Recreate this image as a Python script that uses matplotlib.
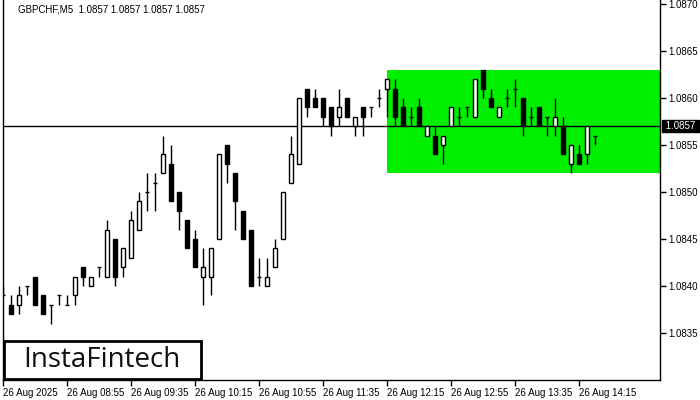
import matplotlib
matplotlib.use("Agg")
import matplotlib.pyplot as plt
from matplotlib.patches import Rectangle
import matplotlib.transforms as mtransforms

# ---- data (GBPCHF M5) ----
opens = [1.0839, 1.0838, 1.0838, 1.0840, 1.0841, 1.0839, 1.0838, 1.0839, 1.0838, 1.0839,
         1.0842, 1.0840, 1.0842, 1.0841, 1.0845, 1.0842, 1.0843, 1.0846, 1.0850, 1.0851,
         1.0852, 1.0853, 1.0850, 1.0847, 1.0845, 1.0841, 1.0841, 1.0845, 1.0855, 1.0852,
         1.0848, 1.0846, 1.0841, 1.0840, 1.0842, 1.0845, 1.0851, 1.0853, 1.0861, 1.0860,
         1.0860, 1.0859, 1.0858, 1.0860, 1.0857, 1.0859, 1.0859, 1.0860, 1.0861, 1.0861,
         1.0859, 1.0858, 1.0859, 1.0856, 1.0856, 1.0855, 1.0857, 1.0858, 1.0859, 1.0858,
         1.0863, 1.0860, 1.0858, 1.0860, 1.0861, 1.0860, 1.0858, 1.0859, 1.0858, 1.0857,
         1.0857, 1.0853, 1.0854, 1.0854, 1.0856]
highs = [1.0840, 1.0839, 1.0840, 1.0840, 1.0841, 1.0839, 1.0838, 1.0839, 1.0839, 1.0841,
         1.0842, 1.0841, 1.0842, 1.0847, 1.0845, 1.0844, 1.0848, 1.0850, 1.0852, 1.0852,
         1.0856, 1.0855, 1.0850, 1.0847, 1.0846, 1.0844, 1.0844, 1.0854, 1.0855, 1.0852,
         1.0848, 1.0846, 1.0843, 1.0843, 1.0845, 1.0850, 1.0856, 1.0860, 1.0861, 1.0861,
         1.0860, 1.0859, 1.0861, 1.0860, 1.0858, 1.0859, 1.0859, 1.0861, 1.0862, 1.0862,
         1.0860, 1.0859, 1.0860, 1.0857, 1.0857, 1.0856, 1.0859, 1.0859, 1.0859, 1.0862,
         1.0863, 1.0861, 1.0859, 1.0861, 1.0862, 1.0860, 1.0859, 1.0859, 1.0858, 1.0860,
         1.0858, 1.0855, 1.0855, 1.0857, 1.0856]
lows = [1.0839, 1.0837, 1.0837, 1.0839, 1.0838, 1.0837, 1.0836, 1.0838, 1.0838, 1.0838,
        1.0840, 1.0840, 1.0841, 1.0841, 1.0840, 1.0841, 1.0843, 1.0846, 1.0848, 1.0848,
        1.0852, 1.0849, 1.0846, 1.0844, 1.0842, 1.0838, 1.0839, 1.0845, 1.0851, 1.0846,
        1.0845, 1.0840, 1.0840, 1.0840, 1.0842, 1.0845, 1.0851, 1.0853, 1.0858, 1.0859,
        1.0857, 1.0856, 1.0857, 1.0858, 1.0856, 1.0856, 1.0858, 1.0859, 1.0858, 1.0857,
        1.0857, 1.0857, 1.0857, 1.0856, 1.0854, 1.0853, 1.0857, 1.0857, 1.0858, 1.0858,
        1.0860, 1.0859, 1.0858, 1.0859, 1.0859, 1.0856, 1.0857, 1.0857, 1.0856, 1.0856,
        1.0854, 1.0852, 1.0853, 1.0853, 1.0855]
closes = [1.0839, 1.0837, 1.0839, 1.0840, 1.0838, 1.0837, 1.0838, 1.0839, 1.0838, 1.0841,
          1.0841, 1.0841, 1.0842, 1.0846, 1.0841, 1.0844, 1.0847, 1.0849, 1.0850, 1.0851,
          1.0854, 1.0849, 1.0848, 1.0844, 1.0842, 1.0842, 1.0844, 1.0854, 1.0853, 1.0849,
          1.0845, 1.0840, 1.0841, 1.0841, 1.0844, 1.0850, 1.0854, 1.0860, 1.0859, 1.0859,
          1.0858, 1.0857, 1.0859, 1.0858, 1.0858, 1.0858, 1.0859, 1.0860, 1.0862, 1.0858,
          1.0857, 1.0858, 1.0857, 1.0857, 1.0854, 1.0856, 1.0859, 1.0858, 1.0859, 1.0862,
          1.0861, 1.0859, 1.0859, 1.0860, 1.0861, 1.0857, 1.0858, 1.0857, 1.0858, 1.0858,
          1.0854, 1.0855, 1.0853, 1.0857, 1.0856]

price_ticks = [1.0835, 1.0840, 1.0845, 1.0850, 1.0855, 1.0860, 1.0865, 1.0870]
time_labels = ["26 Aug 2025", "26 Aug 08:55", "26 Aug 09:35", "26 Aug 10:15",
               "26 Aug 10:55", "26 Aug 11:35", "26 Aug 12:15", "26 Aug 12:55",
               "26 Aug 13:35", "26 Aug 14:15"]
time_label_idx = [0, 8, 16, 24, 32, 40, 48, 56, 64, 72]

current_price = 1.0857
zone_start = 48
zone_top = 1.0863
zone_bottom = 1.0852
title_text = "GBPCHF,M5  1.0857 1.0857 1.0857 1.0857"

plt.rcParams["font.family"] = ["Liberation Sans", "DejaVu Sans"]

# ---- figure ----
W, H = 700, 400
fig = plt.figure(figsize=(7, 4), dpi=100)
ax = fig.add_axes([3 / W, 1 - 380 / H, (660 - 3) / W, 380 / H])
ax.set_xlim(0, (660 - 3) / 8)
ax.set_ylim(1.08300, 1.087043)

# green zone
ax.add_patch(Rectangle((zone_start, zone_bottom), 200, zone_top - zone_bottom,
                       facecolor="#00ee00", edgecolor="none", zorder=1))
ax.axhline(current_price, color="black", lw=1, zorder=2)

bw = 0.6
for i, (o, h, l, c) in enumerate(zip(opens, highs, lows, closes)):
    ax.vlines(i, l, h, color="black", lw=1, zorder=3)
    if abs(c - o) < 1e-9:
        ax.hlines(o, i - bw / 2, i + bw / 2, color="black", lw=1, zorder=4)
    else:
        fill = "white" if c > o else "black"
        ax.bar(i, abs(c - o), bottom=min(o, c), width=bw, color=fill,
               edgecolor="black", linewidth=1, zorder=4)

# axes styling
for s in ["left", "bottom", "right"]:
    ax.spines[s].set_color("black")
    ax.spines[s].set_linewidth(1)
ax.spines["top"].set_visible(False)

ax.yaxis.tick_right()
ax.set_yticks(price_ticks)
ax.set_yticklabels([f"{p:.4f}" for p in price_ticks])
ax.tick_params(axis="y", direction="out", length=4, width=1, pad=2,
               labelsize=7, colors="black")
ax.set_xticks(time_label_idx)
ax.set_xticklabels(time_labels)
for lbl in ax.get_xticklabels():
    lbl.set_horizontalalignment("left")
ax.tick_params(axis="x", direction="out", length=4, width=1, pad=2,
               labelsize=7, colors="black")

# current price label
trans = mtransforms.blended_transform_factory(ax.transAxes, ax.transData)
ax.text(1.004, current_price, " 1.0857 ", transform=trans, ha="left", va="center",
        fontsize=7, color="white", zorder=10, clip_on=False,
        bbox=dict(boxstyle="square,pad=0.1", facecolor="black", edgecolor="black"))

# title
fig.text(18 / W, 1 - 10 / H, title_text, ha="left", va="center", fontsize=7,
         color="black")

# logo
fig.patches.append(Rectangle((4 / W, 1 - 379 / H), 197 / W, 38 / H,
                             transform=fig.transFigure, facecolor="white",
                             edgecolor="black", linewidth=2, zorder=20))
fig.text(102 / W, 1 - 360 / H, "InstaFintech", ha="center", va="center",
         fontsize=20, color="#111111", family="Open Sans", weight=500, zorder=21)

fig.savefig("out.png", dpi=100)
